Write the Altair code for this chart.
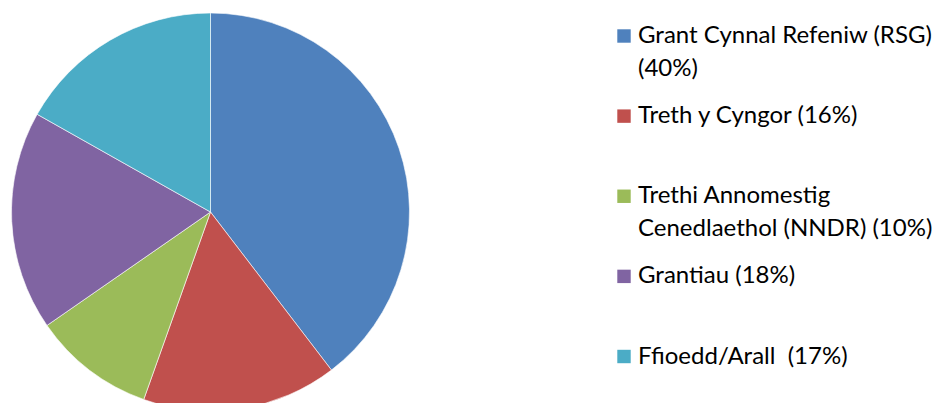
import altair as alt
import pandas as pd

categories = [
    "Grant Cynnal Refeniw (RSG)",
    "Treth y Cyngor",
    "Trethi Annomestig Cenedlaethol (NNDR)",
    "Grantiau",
    "Ffioedd/Arall",
]
values = [40, 16, 10, 18, 17]
legend_labels = [
    "Grant Cynnal Refeniw (RSG)\n(40%)",
    "Treth y Cyngor (16%)",
    "Trethi Annomestig\nCenedlaethol (NNDR) (10%)",
    "Grantiau (18%)",
    "Ffioedd/Arall\u00a0 (17%)",
]
colors = ["#4F81BD", "#C0504D", "#9BBB59", "#8064A2", "#4BACC6"]

df = pd.DataFrame({
    "category": categories,
    "value": values,
    "legend": legend_labels,
    "idx": list(range(len(categories))),
})

color = alt.Color("category:N", scale=alt.Scale(domain=categories, range=colors), legend=None)
ypos = alt.Y("category:N", scale=alt.Scale(type="point", domain=categories, range=[28, 348.5], padding=0), axis=None)

base = alt.Chart(df)

pie = base.mark_arc(radius=199, stroke="white", strokeWidth=0.6).encode(
    theta=alt.Theta("value:Q", stack=True),
    color=color,
    order=alt.Order("idx:Q"),
    x=alt.value(202.5),
    y=alt.value(204),
)

squares = base.mark_square(size=180, opacity=1).encode(
    x=alt.value(616),
    y=ypos,
    color=color,
)

labels = base.mark_text(
    align="left", baseline="middle", lineBreak="\n",
    fontSize=24, font="Lato", lineHeight=32.5, color="#000000",
).encode(
    x=alt.value(630),
    y=ypos,
    text="legend:N",
)

chart = alt.layer(pie, squares, labels).properties(
    width=926, height=395, padding=0, autosize="none"
).configure_view(stroke=None)

chart.save("out.html", embed_options={"renderer": "svg", "actions": False})
